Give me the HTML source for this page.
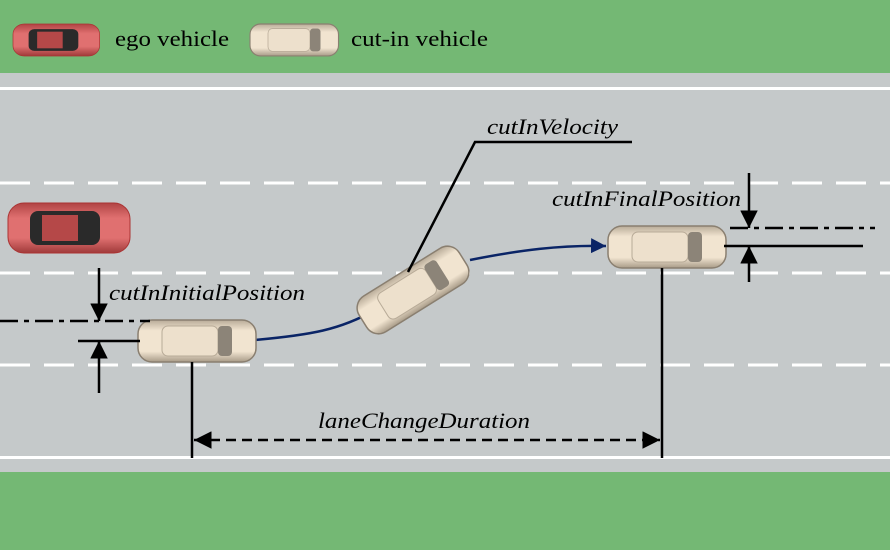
<!DOCTYPE html>
<html><head><meta charset="utf-8"><style>body{margin:0}svg{display:block}</style></head><body>
<svg width="890" height="550" viewBox="0 0 890 550" xmlns="http://www.w3.org/2000/svg">
<defs>
<linearGradient id="bg" x1="0" y1="0" x2="0" y2="1"><stop offset="0" stop-color="#b8ab98"/><stop offset=".25" stop-color="#f1e4d0"/><stop offset=".75" stop-color="#f1e4d0"/><stop offset="1" stop-color="#a89b88"/></linearGradient>
<linearGradient id="rg" x1="0" y1="0" x2="0" y2="1"><stop offset="0" stop-color="#b04444"/><stop offset=".3" stop-color="#e07070"/><stop offset=".7" stop-color="#e07070"/><stop offset="1" stop-color="#a03a3a"/></linearGradient>
<g id="bc"><rect x="0" y="0" width="118" height="42" rx="14" fill="url(#bg)" stroke="#8a7f70" stroke-width="1.5"/><rect x="24" y="6" width="56" height="30" rx="6" fill="#ede0cc" stroke="#b8ab98"/><rect x="80" y="6" width="14" height="30" rx="4" fill="#8c8478"/></g>
<g id="rc"><rect x="0" y="0" width="122" height="50" rx="16" fill="url(#rg)" stroke="#a33" /><rect x="22" y="8" width="70" height="34" rx="8" fill="#2a2a2a"/><rect x="34" y="12" width="36" height="26" fill="#b54848"/></g>
<marker id="ah" viewBox="0 0 10 10" refX="10" refY="5" markerWidth="7" markerHeight="7" orient="auto-start-reverse"><path d="M0,0L10,5L0,10z" fill="#000"/></marker>
<marker id="bh" viewBox="0 0 10 10" refX="10" refY="5" markerWidth="6" markerHeight="6" orient="auto"><path d="M0,0L10,5L0,10z" fill="#0a2466"/></marker>
</defs>
<rect width="890" height="550" fill="#c5c9ca"/>
<rect width="890" height="73" fill="#74b874"/>
<rect y="472" width="890" height="78" fill="#74b874"/>
<rect y="87" width="890" height="3" fill="#fff"/>
<rect y="456" width="890" height="3" fill="#fff"/>
<g stroke="#fff" stroke-width="3" stroke-dasharray="30,14">
<line x1="0" y1="183" x2="890" y2="183"/><line x1="0" y1="273" x2="890" y2="273"/><line x1="0" y1="365" x2="890" y2="365"/></g>
<use href="#rc" transform="translate(13,24) scale(0.71,0.64)"/>
<use href="#bc" transform="translate(250,24) scale(0.75,0.76)"/>
<g font-family="Liberation Serif, serif" font-size="22" fill="#000">
<text x="115" y="46" textLength="114" lengthAdjust="spacingAndGlyphs">ego vehicle</text><text x="351" y="46" textLength="137" lengthAdjust="spacingAndGlyphs">cut-in vehicle</text></g>
<use href="#rc" transform="translate(8,203)"/>
<path d="M255,340 C310,335 340,330 375,310" stroke="#0a2466" stroke-width="2.5" fill="none"/>
<path d="M470,260 C520,250 560,245 606,246" stroke="#0a2466" stroke-width="2.5" fill="none" marker-end="url(#bh)"/>
<use href="#bc" transform="translate(138,320)"/>
<use href="#bc" transform="translate(413,290) rotate(-32) translate(-59,-21)"/>
<use href="#bc" transform="translate(608,226)"/>
<g stroke="#000" stroke-width="2.5" fill="none">
<line x1="0" y1="321" x2="150" y2="321" stroke-dasharray="18,6,5,6"/>
<line x1="78" y1="341" x2="140" y2="341"/>
<line x1="99" y1="268" x2="99" y2="321" marker-end="url(#ah)"/>
<line x1="99" y1="393" x2="99" y2="341" marker-end="url(#ah)"/>
<line x1="730" y1="228" x2="875" y2="228" stroke-dasharray="18,6,5,6"/>
<line x1="724" y1="246" x2="863" y2="246"/>
<line x1="749" y1="173" x2="749" y2="228" marker-end="url(#ah)"/>
<line x1="749" y1="282" x2="749" y2="246" marker-end="url(#ah)"/>
<line x1="192" y1="362" x2="192" y2="458"/>
<line x1="662" y1="268" x2="662" y2="458"/>
<line x1="194" y1="440" x2="660" y2="440" stroke-dasharray="10,6" marker-start="url(#ah)" marker-end="url(#ah)"/>
<polyline points="408,272 475,142 632,142"/>
</g>
<g font-family="Liberation Serif, serif" font-style="italic" font-size="22" fill="#000">
<text x="487" y="134" textLength="131" lengthAdjust="spacingAndGlyphs">cutInVelocity</text>
<text x="552" y="206" textLength="189" lengthAdjust="spacingAndGlyphs">cutInFinalPosition</text>
<text x="109" y="300" textLength="196" lengthAdjust="spacingAndGlyphs">cutInInitialPosition</text>
<text x="318" y="428" textLength="212" lengthAdjust="spacingAndGlyphs">laneChangeDuration</text>
</g>
</svg>
</body></html>
